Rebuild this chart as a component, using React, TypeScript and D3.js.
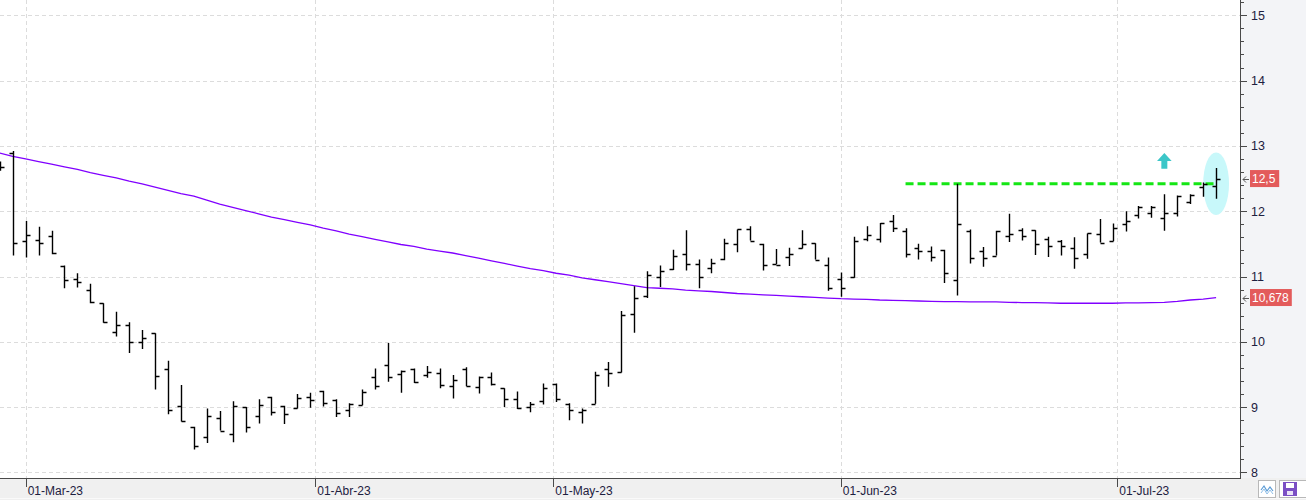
import * as d3 from "d3";

// daily OHLC, 27-Feb-23 .. 12-Jul-23 (one entry per session)
const opens = [
  12.72, 12.89, 11.54, 11.56, 11.62, 11.16, 10.96, 10.79, 10.59, 10.15,
  10.25, 10.0, 10.13, 9.59, 9.02, 8.7, 8.54, 8.83, 8.59, 9.0,
  8.86, 9.15, 9.02, 8.98, 9.15, 9.24, 9.11, 8.95, 9.03, 9.46,
  9.64, 9.51, 9.58, 9.49, 9.52, 9.33, 9.58, 9.31, 9.46, 9.29,
  9.12, 9.0, 9.09, 9.36, 9.05, 8.92, 9.05, 9.58, 9.53, 10.42,
  10.7, 11.0, 11.11, 11.34, 11.19, 11.13, 11.27, 11.5, 11.72, 11.5,
  11.19, 11.3, 11.43, 11.51, 11.17, 10.96, 10.99, 11.58, 11.57, 11.85,
  11.7, 11.43, 11.39, 11.41, 10.95, 11.69, 11.39, 11.32, 11.62, 11.71,
  11.71, 11.58, 11.55, 11.44, 11.34, 11.65, 11.54, 11.8, 11.94, 11.98,
  11.89, 11.97, 12.14, 12.37, 12.39,
];
const highs = [
  12.76, 12.92, 11.85, 11.76, 11.7, 11.17, 11.05, 10.89, 10.59, 10.46,
  10.3, 10.18, 10.13, 9.71, 9.34, 8.7, 8.98, 8.94, 9.09, 9.0,
  9.12, 9.16, 9.02, 9.2, 9.22, 9.25, 9.12, 9.06, 9.27, 9.59,
  9.98, 9.56, 9.59, 9.63, 9.59, 9.49, 9.61, 9.47, 9.53, 9.29,
  9.24, 9.08, 9.36, 9.36, 9.06, 8.98, 9.54, 9.69, 10.47, 10.85,
  11.08, 11.17, 11.41, 11.71, 11.26, 11.27, 11.58, 11.72, 11.77, 11.5,
  11.42, 11.44, 11.71, 11.51, 11.29, 11.06, 11.61, 11.77, 11.82, 11.94,
  11.74, 11.5, 11.46, 11.41, 12.42, 11.72, 11.45, 11.7, 11.96, 11.74,
  11.71, 11.61, 11.56, 11.6, 11.66, 11.88, 11.81, 12.0, 12.08, 12.08,
  12.26, 12.24, 12.26, 12.44, 12.66,
];
const lows = [
  12.62, 11.32, 11.29, 11.32, 11.34, 10.82, 10.83, 10.59, 10.29, 10.08,
  9.83, 9.89, 9.27, 8.89, 8.78, 8.35, 8.45, 8.64, 8.46, 8.61,
  8.75, 8.87, 8.74, 8.98, 8.99, 9.01, 8.85, 8.85, 9.03, 9.27,
  9.39, 9.22, 9.37, 9.45, 9.29, 9.13, 9.32, 9.21, 9.33, 9.0,
  8.97, 8.92, 9.04, 9.08, 8.8, 8.75, 9.05, 9.31, 9.53, 10.14,
  10.67, 10.84, 11.1, 11.09, 10.82, 11.05, 11.25, 11.37, 11.55, 11.09,
  11.19, 11.16, 11.43, 11.26, 10.78, 10.69, 10.98, 11.54, 11.52, 11.68,
  11.29, 11.26, 11.23, 10.9, 10.71, 11.2, 11.15, 11.32, 11.53, 11.55,
  11.33, 11.3, 11.32, 11.12, 11.27, 11.52, 11.54, 11.69, 11.89, 11.9,
  11.7, 11.92, 12.11, 12.22, 12.19,
];
const closes = [
  12.67, 11.52, 11.63, 11.51, 11.36, 10.94, 10.91, 10.61, 10.3, 10.26,
  10.0, 10.06, 9.47, 8.95, 8.78, 8.4, 8.87, 8.64, 9.01, 8.7,
  9.03, 8.92, 8.89, 9.14, 9.11, 9.07, 8.91, 9.04, 9.23, 9.33,
  9.46, 9.55, 9.38, 9.53, 9.34, 9.41, 9.32, 9.46, 9.35, 9.12,
  8.99, 9.05, 9.3, 9.12, 8.95, 8.96, 9.49, 9.52, 10.41, 10.67,
  11.02, 11.09, 11.32, 11.19, 11.0, 11.21, 11.51, 11.72, 11.55, 11.17,
  11.18, 11.34, 11.5, 11.26, 10.83, 10.83, 11.54, 11.63, 11.82, 11.74,
  11.34, 11.39, 11.3, 11.06, 11.8, 11.28, 11.28, 11.7, 11.65, 11.62,
  11.5, 11.46, 11.47, 11.29, 11.66, 11.52, 11.74, 11.85, 12.06, 12.06,
  11.97, 12.24, 12.25, 12.42, 12.5,
];
const movingAvg = [
  12.89, 12.84, 12.8, 12.76, 12.72, 12.68, 12.64, 12.59, 12.55, 12.51,
  12.46, 12.42, 12.37, 12.32, 12.27, 12.23, 12.17, 12.11, 12.06, 12.01,
  11.96, 11.91, 11.87, 11.83, 11.79, 11.74, 11.7, 11.65, 11.61, 11.57,
  11.53, 11.49, 11.46, 11.42, 11.39, 11.36, 11.32, 11.28, 11.24, 11.2,
  11.16, 11.12, 11.09, 11.05, 11.02, 10.98, 10.95, 10.92, 10.89, 10.86,
  10.83, 10.82, 10.81, 10.79, 10.78, 10.77, 10.755, 10.74, 10.73, 10.72,
  10.71, 10.7, 10.69, 10.68, 10.67, 10.66, 10.655, 10.65, 10.64, 10.635,
  10.63, 10.625, 10.62, 10.615, 10.615, 10.61, 10.61, 10.61, 10.605, 10.6,
  10.6, 10.595, 10.59, 10.59, 10.59, 10.59, 10.59, 10.595, 10.595, 10.6,
  10.605, 10.62, 10.64, 10.655, 10.678,
];

// month ticks sit at calendar position between sessions
const monthTicks = [2, 24.38, 42.78, 65, 86.36];
const monthLabels = ["01-Mar-23", "01-Abr-23", "01-May-23", "01-Jun-23", "01-Jul-23"];
const priceTicks = [8, 9, 10, 11, 12, 13, 14, 15];

const resistanceLevel = 12.42;
const resistanceFrom = 70;
const resistanceTo = 93.8;
const signalBar = 90;
const arrowPrices = [12.89, 12.77, 12.65]; // tip, head base, tail
const ellipseBar = 94;
const ellipsePrice = 12.42;
const ellipseHalfRange = 0.48;

const lastLabel = "12,5";
const maLabel = "10,678";

const W = 1306;
const H = 500;
const plotRight = 1240;
const plotBottom = 478;
const font = "'Liberation Sans', Arial, sans-serif";

export default function App() {
  const x = d3.scaleLinear().domain([0, 94]).range([-0.24, 1216.1]);
  const y = d3.scaleLinear().domain([8, 15]).range([472.4, 15.3]);

  const minorTicks = d3.range(80, 153, 2).map((v) => v / 10);
  const px = (v: number) => Math.round(v) + 0.5;

  const maLine = d3
    .line<number>()
    .x((_, i) => x(i))
    .y((d) => y(d));

  const barPath = opens
    .map((o, i) => {
      const cx = px(x(i));
      return (
        `M${cx},${y(highs[i])}V${y(lows[i])}` +
        `M${cx - 4},${px(y(o))}H${cx}` +
        `M${cx},${px(y(closes[i]))}H${cx + 4}`
      );
    })
    .join("");

  const ax = x(signalBar);
  const arrow = d3.path();
  arrow.moveTo(ax, y(arrowPrices[0]));
  arrow.lineTo(ax + 7.3, y(arrowPrices[1]));
  arrow.lineTo(ax + 3, y(arrowPrices[1]));
  arrow.lineTo(ax + 3, y(arrowPrices[2]));
  arrow.lineTo(ax - 3, y(arrowPrices[2]));
  arrow.lineTo(ax - 3, y(arrowPrices[1]));
  arrow.lineTo(ax - 7.3, y(arrowPrices[1]));
  arrow.closePath();

  const priceTag = (value: number, text: string) => {
    const cy = y(value);
    const w = text.length * 6.3 + 4;
    return (
      <g key={text}>
        <path
          d={`M1249,${px(cy)}H1243M1246,${px(cy) - 3}L1243,${px(cy)}L1246,${px(cy) + 3}`}
          stroke="#555"
          fill="none"
        />
        <rect x={1250} y={cy - 8.5} width={w} height={17} fill="#e35b5b" />
        <text x={1252} y={cy + 4.3} fill="#fff" fontSize={12} fontFamily={font}>
          {text}
        </text>
      </g>
    );
  };

  return (
    <>
      <style>{`body{margin:0;}`}</style>
      <svg width={W} height={H} style={{ display: "block" }}>
        <rect width={W} height={H} fill="#fff" />
        <rect x={plotRight} y={0} width={W - plotRight} height={plotBottom} fill="#f3f4f7" />
        <rect x={0} y={plotBottom} width={W} height={H - plotBottom} fill="#f0f0f0" />
        <line x1={0} x2={W} y1={498.5} y2={498.5} stroke="#fafafa" />

        {/* grid */}
        {priceTicks.map((p) => (
          <line
            key={"h" + p}
            x1={0}
            x2={plotRight}
            y1={px(y(p))}
            y2={px(y(p))}
            stroke="#dcdcdc"
            strokeDasharray="4,3"
          />
        ))}
        {monthTicks.map((m) => (
          <line
            key={"v" + m}
            x1={px(x(m))}
            x2={px(x(m))}
            y1={0}
            y2={plotBottom}
            stroke="#dcdcdc"
            strokeDasharray="4,3"
          />
        ))}

        {/* moving average */}
        <path d={maLine(movingAvg) ?? ""} fill="none" stroke="#8000ff" strokeWidth={1.3} />

        {/* highlight + signal */}
        <ellipse
          cx={x(ellipseBar)}
          cy={y(ellipsePrice)}
          rx={x(1) - x(0)}
          ry={y(ellipsePrice - ellipseHalfRange) - y(ellipsePrice)}
          fill="#c8f8fa"
        />
        <line
          x1={x(resistanceFrom)}
          x2={x(resistanceTo)}
          y1={y(resistanceLevel)}
          y2={y(resistanceLevel)}
          stroke="#14e614"
          strokeWidth={3}
          strokeDasharray="8,4"
        />
        <path d={arrow.toString()} fill="#3cc6c8" />

        {/* OHLC bars */}
        <path d={barPath} fill="none" stroke="#000" strokeWidth={1.4} />

        {/* right axis */}
        <line x1={plotRight + 0.5} x2={plotRight + 0.5} y1={0} y2={plotBottom} stroke="#4a4a4a" />
        {minorTicks.map((t) => (
          <line
            key={"m" + t}
            x1={plotRight}
            x2={plotRight + 4}
            y1={px(y(t))}
            y2={px(y(t))}
            stroke="#4a4a4a"
          />
        ))}
        {priceTicks.map((p) => (
          <g key={"t" + p}>
            <line x1={plotRight} x2={plotRight + 7} y1={px(y(p))} y2={px(y(p))} stroke="#4a4a4a" />
            <text x={1251} y={y(p) + 4.5} fontSize={12.5} fontFamily={font} fill="#1d2040">
              {p}
            </text>
          </g>
        ))}
        {priceTag(closes[closes.length - 1], lastLabel)}
        {priceTag(movingAvg[movingAvg.length - 1], maLabel)}

        {/* bottom axis */}
        <line x1={0} x2={plotRight + 1} y1={plotBottom + 0.5} y2={plotBottom + 0.5} stroke="#4a4a4a" />
        {monthTicks.map((m, i) => (
          <g key={"b" + m}>
            <line x1={px(x(m))} x2={px(x(m))} y1={plotBottom} y2={plotBottom + 9} stroke="#4a4a4a" />
            <text x={x(m) + 2} y={495} fontSize={12} fontFamily={font} fill="#1d2040">
              {monthLabels[i]}
            </text>
          </g>
        ))}

        {/* toolbar icons */}
        <rect x={1258.5} y={480.5} width={17} height={17} fill="#fff" stroke="#b8b8b8" />
        <path d="M1261,490l3,-4l3,5l3,-4l3,4" fill="none" stroke="#5b9bd5" strokeWidth={1.2} />
        <path d="M1261,493l3,-4l3,5l3,-4l3,4" fill="none" stroke="#8fbfe8" strokeWidth={1} />
        <rect x={1279.5} y={480.5} width={30} height={17} fill="#fff" stroke="#b8b8b8" />
        <rect x={1283} y={482} width={14} height={14} fill="#7b4fc4" />
        <rect x={1286} y={483} width={8} height={5} fill="#fff" />
        <rect x={1287} y={491} width={6} height={4} fill="#e9e2f6" />
      </svg>
    </>
  );
}
